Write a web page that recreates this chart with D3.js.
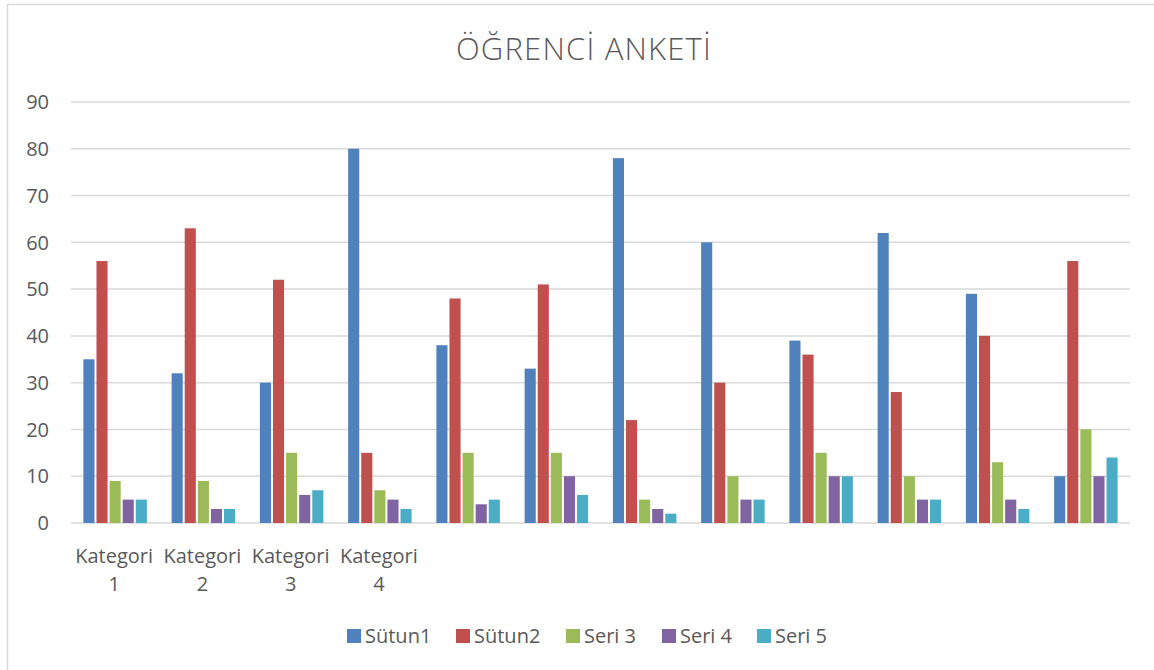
<!DOCTYPE html>
<html><head><meta charset="utf-8">
<script src="https://cdn.jsdelivr.net/npm/d3@7"></script>
<style>
html,body{margin:0;padding:0;background:#fff;}
svg{display:block;font-family:"Open Sans","Noto Sans",sans-serif;}
</style></head>
<body>
<svg id="chart" width="1154" height="670"></svg>
<script>
const categories = ["Kategori 1","Kategori 2","Kategori 3","Kategori 4","","","","","","","",""];
const seriesNames = ["Sütun1","Sütun2","Seri 3","Seri 4","Seri 5"];
const sutun1 = [35,32,30,80,38,33,78,60,39,62,49,10];
const sutun2 = [56,63,52,15,48,51,22,30,36,28,40,56];
const seri3  = [9,9,15,7,15,15,5,10,15,10,13,20];
const seri4  = [5,3,6,5,4,10,3,5,10,5,5,10];
const seri5  = [5,3,7,3,5,6,2,5,10,5,3,14];
const yTicks = [0,10,20,30,40,50,60,70,80,90];
const colors = ["#4F81BD","#C0504D","#9BBB59","#8064A2","#4BACC6"];
const chartTitle = "ÖĞRENCİ ANKETİ";

(function(){
const allSeries = [sutun1,sutun2,seri3,seri4,seri5];
const svg = d3.select("#chart");
const textColor = "#595959";

// chart border
svg.append("rect").attr("x",7.5).attr("y",4.5).attr("width",1160).attr("height",680)
  .attr("fill","none").attr("stroke","#d9d9d9").attr("stroke-width",1.5);

const pl = 71, pr = 1130, pt = 102, pb = 523;
const idx = d3.range(categories.length);
const x0 = d3.scaleBand().domain(idx).range([pl,pr]).paddingInner(0.258).paddingOuter(0.129);
const x1 = d3.scaleBand().domain(d3.range(seriesNames.length)).range([0,x0.bandwidth()]);
const y = d3.scaleLinear().domain([0,90]).range([pb,pt]);

// gridlines
svg.append("g").selectAll("line").data(yTicks).join("line")
  .attr("x1",pl).attr("x2",pr)
  .attr("y1",d=>y(d)).attr("y2",d=>y(d))
  .attr("stroke","#d9d9d9").attr("stroke-width",1.5);

// y tick labels
svg.append("g").selectAll("text").data(yTicks).join("text")
  .attr("x",49).attr("y",d=>y(d)).attr("dy","0.36em")
  .attr("text-anchor","end").attr("fill",textColor).attr("font-size",20)
  .text(d=>d);

// bars
const g = svg.append("g");
idx.forEach(i=>{
  allSeries.forEach((s,j)=>{
    g.append("rect")
      .attr("x", x0(i)+x1(j)+1)
      .attr("width", x1.bandwidth()-2)
      .attr("y", y(s[i]))
      .attr("height", y(0)-y(s[i]))
      .attr("fill", colors[j]);
  });
});

// x category labels (wrapped)
idx.forEach(i=>{
  const c = categories[i];
  if(!c) return;
  const parts = c.split(" ");
  const cx = x0(i)+x0.bandwidth()/2 - 1;
  const t = svg.append("text").attr("text-anchor","middle").attr("fill",textColor).attr("font-size",20);
  parts.forEach((p,k)=>{
    t.append("tspan").attr("x", cx).attr("y", 563 + k*28).text(p);
  });
});

// title
svg.append("text").attr("x",584).attr("y",60).attr("text-anchor","middle")
  .attr("fill",textColor).attr("font-size",31).attr("font-weight",300)
  .attr("letter-spacing",1.2).text(chartTitle);

// legend
const legendX = [347,456,566,662,757];
seriesNames.forEach((n,j)=>{
  svg.append("rect").attr("x",legendX[j]).attr("y",629).attr("width",14).attr("height",14).attr("fill",colors[j]);
  svg.append("text").attr("x",legendX[j]+18).attr("y",636).attr("dy","0.36em")
    .attr("fill",textColor).attr("font-size",20).text(n);
});
})();
</script>
</body></html>
